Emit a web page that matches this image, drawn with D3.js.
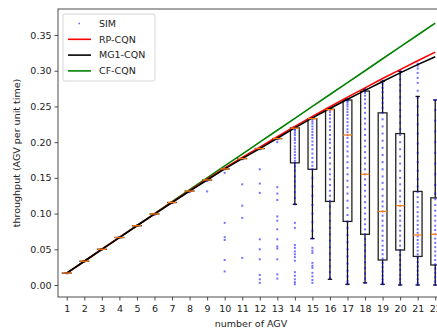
<!DOCTYPE html>
<html lang="en">
<head>
    <meta charset="UTF-8">
    <title>AGV throughput</title>
    <script src="https://cdn.jsdelivr.net/npm/d3@7"></script>
    <style>
        body { margin: 0; background: #fff; overflow: hidden; }
        text { font-family: "DejaVu Sans", sans-serif; fill: #222; }
    </style>
</head>
<body>
<svg id="chart" width="437" height="332"></svg>

<script>
    // number of AGV on the x axis
    var nAGV = d3.range(1, 23);

    // analytic models
    var rpCqn  = [0.0167, 0.0333, 0.0500, 0.0666, 0.0831, 0.0995, 0.1158, 0.1320, 0.1480, 0.1635,
                  0.1785, 0.1930, 0.2075, 0.2220, 0.2360, 0.2495, 0.2630, 0.2760, 0.2890, 0.3015,
                  0.3140, 0.3260];
    var mg1Cqn = [0.0167, 0.0333, 0.0499, 0.0664, 0.0829, 0.0993, 0.1155, 0.1315, 0.1470, 0.1625,
                  0.1770, 0.1910, 0.2055, 0.2200, 0.2340, 0.2470, 0.2600, 0.2725, 0.2850, 0.2970,
                  0.3085, 0.3195];
    var cfCqn  = [0.0167, 0.0333, 0.0500, 0.0667, 0.0833, 0.1000, 0.1167, 0.1333, 0.1500, 0.1667,
                  0.1833, 0.2000, 0.2167, 0.2333, 0.2500, 0.2667, 0.2833, 0.3000, 0.3167, 0.3333,
                  0.3500, 0.3667];

    // boxplot stats of the simulation runs
    var boxQ1      = [0.0167, 0.0333, 0.0500, 0.0665, 0.0830, 0.0995, 0.1155, 0.1315, 0.1470, 0.1625,
                      0.1770, 0.1910, 0.2050, 0.1710, 0.1620, 0.1170, 0.0890, 0.0710, 0.0350, 0.0490,
                      0.0400, 0.0280];
    var boxMedian  = [0.0167, 0.0333, 0.0500, 0.0665, 0.0830, 0.0995, 0.1155, 0.1315, 0.1470, 0.1625,
                      0.1770, 0.1910, 0.2050, 0.2195, 0.2330, 0.2455, 0.2100, 0.1550, 0.1030, 0.1110,
                      0.0700, 0.0710];
    var boxQ3      = [0.0167, 0.0333, 0.0500, 0.0665, 0.0830, 0.0995, 0.1155, 0.1315, 0.1470, 0.1625,
                      0.1770, 0.1910, 0.2050, 0.2200, 0.2330, 0.2460, 0.2590, 0.2715, 0.2410, 0.2120,
                      0.1310, 0.1220];
    var whiskerLow = [0.0167, 0.0333, 0.0500, 0.0665, 0.0830, 0.0995, 0.1155, 0.1315, 0.1470, 0.1625,
                      0.1770, 0.1910, 0.2050, 0.1130, 0.0650, 0.0080, 0.0010, 0.0030, 0.0010, 0.0000,
                      0.0000, 0.0000];
    var whiskerHigh = [0.0167, 0.0333, 0.0500, 0.0665, 0.0830, 0.0995, 0.1155, 0.1315, 0.1470, 0.1625,
                      0.1770, 0.1910, 0.2050, 0.2210, 0.2340, 0.2470, 0.2600, 0.2740, 0.2850, 0.2990,
                      0.2640, 0.2590];

    // individual simulation samples (SIM)
    var simSamples = [
        [0.0167, 0.0166, 0.0168, 0.0164],
        [0.0333, 0.0331, 0.0335, 0.0328],
        [0.0500, 0.0497, 0.0502],
        [0.0665, 0.0662, 0.0668],
        [0.0830, 0.0826, 0.0834],
        [0.0995, 0.0990, 0.0985],
        [0.1155, 0.1150, 0.1145],
        [0.1315, 0.1310, 0.1300],
        [0.1470, 0.1465, 0.1455, 0.1310],
        [0.1625, 0.1620, 0.1570, 0.0870, 0.0670, 0.0630, 0.0350, 0.0190],
        [0.1770, 0.1760, 0.1410, 0.1110, 0.0940, 0.0380],
        [0.1910, 0.1900, 0.1620, 0.1420, 0.1290, 0.0640, 0.0500, 0.0360, 0.0140, 0.0080, 0.0030],
        [0.2050, 0.2040, 0.2000, 0.1370, 0.1280, 0.1190, 0.0960, 0.0900, 0.0780, 0.0640, 0.0540,
         0.0510, 0.0360, 0.0150, 0.0090],
        [0.2200, 0.2190, 0.2180, 0.2160, 0.2130, 0.2100, 0.2060, 0.2030, 0.1990, 0.1940, 0.1900,
         0.1860, 0.1820, 0.1780, 0.1740, 0.1710, 0.1660, 0.1600, 0.1520, 0.1450, 0.1380, 0.1300,
         0.1220, 0.1130, 0.0870, 0.0800, 0.0560, 0.0520, 0.0470, 0.0430, 0.0390, 0.0340, 0.0180,
         0.0130, 0.0080, 0.0040, 0.0010],
        [0.2340, 0.2320, 0.2290, 0.2260, 0.2220, 0.2180, 0.2140, 0.2100, 0.2060, 0.2010, 0.1960,
         0.1900, 0.1840, 0.1780, 0.1720, 0.1670, 0.1620, 0.1500, 0.1380, 0.1250, 0.1120, 0.1000,
         0.0880, 0.0760, 0.0650, 0.0520, 0.0480, 0.0450, 0.0310, 0.0270, 0.0240, 0.0170, 0.0120,
         0.0070, 0.0030],
        [0.2470, 0.2450, 0.2420, 0.2380, 0.2330, 0.2280, 0.2220, 0.2170, 0.2100, 0.2040, 0.1990,
         0.1920, 0.1850, 0.1780, 0.1700, 0.1620, 0.1550, 0.1480, 0.1400, 0.1320, 0.1250, 0.1180,
         0.1100, 0.1000, 0.0900, 0.0800, 0.0710, 0.0620, 0.0530, 0.0440, 0.0350, 0.0260, 0.0180,
         0.0100],
        [0.2600, 0.2580, 0.2560, 0.2530, 0.2500, 0.2460, 0.2420, 0.2380, 0.2330, 0.2280, 0.2230,
         0.2180, 0.2140, 0.2100, 0.2060, 0.2000, 0.1940, 0.1870, 0.1800, 0.1720, 0.1640, 0.1550,
         0.1460, 0.1370, 0.1280, 0.1180, 0.1080, 0.0980, 0.0890, 0.0800, 0.0700, 0.0600, 0.0500,
         0.0400, 0.0300, 0.0200, 0.0120, 0.0050, 0.0010],
        [0.2740, 0.2720, 0.2690, 0.2650, 0.2600, 0.2540, 0.2480, 0.2410, 0.2330, 0.2260, 0.2180,
         0.2100, 0.2020, 0.1940, 0.1860, 0.1780, 0.1700, 0.1620, 0.1550, 0.1480, 0.1400, 0.1320,
         0.1240, 0.1160, 0.1080, 0.1000, 0.0920, 0.0850, 0.0780, 0.0710, 0.0640, 0.0560, 0.0480,
         0.0400, 0.0320, 0.0240, 0.0160, 0.0090, 0.0030],
        [0.2860, 0.2820, 0.2760, 0.2700, 0.2620, 0.2550, 0.2480, 0.2410, 0.2320, 0.2220, 0.2120,
         0.2020, 0.1920, 0.1820, 0.1720, 0.1620, 0.1520, 0.1430, 0.1340, 0.1250, 0.1170, 0.1100,
         0.1030, 0.0970, 0.0900, 0.0830, 0.0760, 0.0690, 0.0620, 0.0550, 0.0490, 0.0430, 0.0370,
         0.0310, 0.0250, 0.0190, 0.0130, 0.0080, 0.0040, 0.0010],
        [0.3000, 0.2950, 0.2880, 0.2800, 0.2720, 0.2630, 0.2540, 0.2450, 0.2360, 0.2270, 0.2180,
         0.2100, 0.2000, 0.1900, 0.1800, 0.1700, 0.1600, 0.1500, 0.1410, 0.1320, 0.1240, 0.1170,
         0.1110, 0.1040, 0.0970, 0.0900, 0.0830, 0.0760, 0.0690, 0.0620, 0.0550, 0.0490, 0.0420,
         0.0350, 0.0280, 0.0210, 0.0140, 0.0080, 0.0030, 0.0000],
        [0.3100, 0.3070, 0.3030, 0.2970, 0.2900, 0.2830, 0.2720, 0.2620, 0.2500, 0.2380, 0.2250,
         0.2120, 0.1980, 0.1850, 0.1720, 0.1600, 0.1480, 0.1380, 0.1300, 0.1230, 0.1160, 0.1090,
         0.1020, 0.0960, 0.0900, 0.0840, 0.0780, 0.0730, 0.0680, 0.0630, 0.0580, 0.0530, 0.0480,
         0.0430, 0.0380, 0.0320, 0.0260, 0.0200, 0.0140, 0.0080, 0.0030, 0.0000],
        [0.2590, 0.2450, 0.2300, 0.2150, 0.2000, 0.1850, 0.1700, 0.1550, 0.1400, 0.1280, 0.1200,
         0.1120, 0.1040, 0.0970, 0.0900, 0.0830, 0.0770, 0.0710, 0.0650, 0.0590, 0.0530, 0.0470,
         0.0410, 0.0350, 0.0290, 0.0230, 0.0170, 0.0110, 0.0050, 0.0000]
    ];

    var yTicks = [0.00, 0.05, 0.10, 0.15, 0.20, 0.25, 0.30, 0.35];

    function draw() {
        var svg = d3.select("#chart"),
            mLeft = 58, mRight = 444, mTop = 9, mBottom = 297;

        var x = d3.scaleLinear().domain([0.5, 22.5]).range([mLeft, mRight]);
        var y = d3.scaleLinear().domain([-0.0168, 0.3864]).range([mBottom, mTop]);
        var boxHalf = (x(1.25) - x(1)), capHalf = boxHalf / 2;

        // whiskers, caps and boxes
        var bp = svg.append("g");
        nAGV.forEach(function (n, i) {
            var cx = x(n);
            bp.append("line").attr("x1", cx).attr("x2", cx)
                .attr("y1", y(boxQ1[i])).attr("y2", y(whiskerLow[i]))
                .attr("stroke", "#111").attr("stroke-width", 1.3);
            bp.append("line").attr("x1", cx).attr("x2", cx)
                .attr("y1", y(boxQ3[i])).attr("y2", y(whiskerHigh[i]))
                .attr("stroke", "#111").attr("stroke-width", 1.3);
            [whiskerLow[i], whiskerHigh[i]].forEach(function (v) {
                bp.append("line").attr("x1", cx - capHalf).attr("x2", cx + capHalf)
                    .attr("y1", y(v)).attr("y2", y(v))
                    .attr("stroke", "#111").attr("stroke-width", 1.3);
            });
            bp.append("rect")
                .attr("x", cx - boxHalf).attr("width", 2 * boxHalf)
                .attr("y", y(boxQ3[i])).attr("height", Math.max(0.01, y(boxQ1[i]) - y(boxQ3[i])))
                .attr("fill", "none").attr("stroke", "#222").attr("stroke-width", 1.3);
        });

        // SIM scatter
        var pts = [];
        simSamples.forEach(function (arr, i) {
            arr.forEach(function (v) { pts.push({n: nAGV[i], v: v}); });
        });
        svg.append("g").selectAll("rect").data(pts).enter().append("rect")
            .attr("x", function (d) { return x(d.n) - 1; })
            .attr("y", function (d) { return y(d.v) - 1; })
            .attr("width", 2).attr("height", 2)
            .attr("fill", "#0000ff").attr("opacity", 0.55);

        // model curves
        var line = d3.line()
            .x(function (d, i) { return x(nAGV[i]); })
            .y(function (d) { return y(d); });
        [[cfCqn, "#008000"], [rpCqn, "#ff0000"], [mg1Cqn, "#000000"]].forEach(function (s) {
            svg.append("path").datum(s[0])
                .attr("fill", "none").attr("stroke", s[1]).attr("stroke-width", 1.6)
                .attr("d", line);
        });

        // medians
        svg.append("g").selectAll("line").data(boxMedian).enter().append("line")
            .attr("x1", function (d, i) { return x(nAGV[i]) - boxHalf; })
            .attr("x2", function (d, i) { return x(nAGV[i]) + boxHalf; })
            .attr("y1", function (d) { return y(d); })
            .attr("y2", function (d) { return y(d); })
            .attr("stroke", "#ff7f0e").attr("stroke-width", 1.3);

        // axes
        var gx = svg.append("g").attr("transform", "translate(0," + mBottom + ")")
            .call(d3.axisBottom(x).tickValues(nAGV).tickFormat(d3.format("d")).tickSize(3.5).tickSizeOuter(0));
        var gy = svg.append("g").attr("transform", "translate(" + mLeft + ",0)")
            .call(d3.axisLeft(y).tickValues(yTicks).tickFormat(d3.format(".2f")).tickSize(3.5).tickSizeOuter(0));
        [gx, gy].forEach(function (g) {
            g.select(".domain").remove();
            g.selectAll(".tick line").attr("stroke", "#222").attr("stroke-width", 0.8);
            g.selectAll(".tick text").attr("font-size", "9.5px").attr("fill", "#222")
                .style("font-family", "'DejaVu Sans', sans-serif");
        });
        gx.selectAll(".tick text").attr("dy", "0.9em");

        // spines
        svg.append("rect").attr("x", mLeft).attr("y", mTop)
            .attr("width", mRight - mLeft).attr("height", mBottom - mTop)
            .attr("fill", "none").attr("stroke", "#222").attr("stroke-width", 0.8);

        svg.append("text").attr("x", (mLeft + mRight) / 2).attr("y", 327)
            .attr("text-anchor", "middle").attr("font-size", "9.5px").text("number of AGV");
        svg.append("text").attr("transform", "translate(17," + (mTop + mBottom) / 2 + ") rotate(-90)")
            .attr("text-anchor", "middle").attr("dy", "0.35em").attr("font-size", "9.5px")
            .text("throughput (AGV per unit time)");

        // legend
        var lg = svg.append("g").attr("transform", "translate(63,14)");
        lg.append("rect").attr("width", 92).attr("height", 67).attr("rx", 2)
            .attr("fill", "#fff").attr("fill-opacity", 0.8).attr("stroke", "#ccc").attr("stroke-width", 0.8);
        var entries = [["SIM", "#0000ff", true], ["RP-CQN", "#ff0000"], ["MG1-CQN", "#000000"], ["CF-CQN", "#008000"]];
        entries.forEach(function (e, i) {
            var yy = 9.5 + i * 15.8;
            if (e[2]) {
                lg.append("rect").attr("x", 15.5).attr("y", yy - 0.75).attr("width", 1.5).attr("height", 1.5)
                    .attr("fill", e[1]).attr("opacity", 0.6);
            } else {
                lg.append("line").attr("x1", 5).attr("x2", 28).attr("y1", yy).attr("y2", yy)
                    .attr("stroke", e[1]).attr("stroke-width", 1.6);
            }
            lg.append("text").attr("x", 36).attr("y", yy).attr("dy", "0.35em")
                .attr("font-size", "9.5px").text(e[0]);
        });
    }

    draw();
</script>
</body>
</html>
